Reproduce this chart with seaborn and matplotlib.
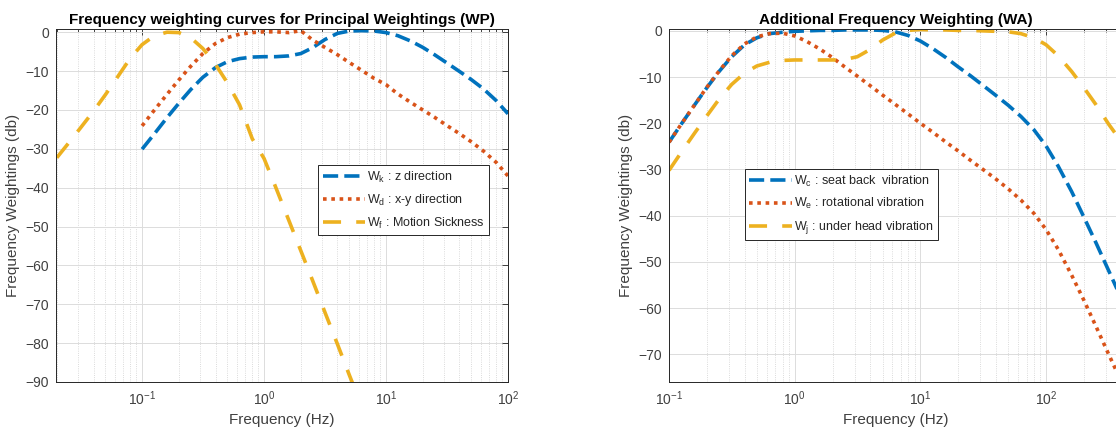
import matplotlib
matplotlib.use("Agg")
import matplotlib.pyplot as plt
from matplotlib.ticker import LogLocator, NullFormatter
import pandas as pd
import seaborn as sns

# third-octave frequencies (Hz)
FREQ_WP = [0.1, 0.125, 0.16, 0.2, 0.25, 0.315, 0.4, 0.5, 0.63, 0.8, 1, 1.25, 1.6, 2,
           2.5, 3.15, 4, 5, 6.3, 8, 10, 12.5, 16, 20, 25, 31.5, 40, 50, 63, 80, 100]
FREQ_WF = [0.02, 0.025, 0.0315, 0.04, 0.05, 0.063, 0.08, 0.1, 0.125, 0.16, 0.2, 0.25,
           0.315, 0.4, 0.5, 0.63, 0.8, 1, 1.25, 1.6, 2, 2.5, 3.15, 4, 5, 6.3]
FREQ_WA = [0.1, 0.125, 0.16, 0.2, 0.25, 0.315, 0.4, 0.5, 0.63, 0.8, 1, 1.25, 1.6, 2,
           2.5, 3.15, 4, 5, 6.3, 8, 10, 12.5, 16, 20, 25, 31.5, 40, 50, 63, 80, 100,
           125, 160, 200, 250, 315, 400]

# principal weightings (dB)
WK_DB = [-30.1, -26.3, -22.0, -18.3, -14.8, -11.6, -9.1, -7.6, -6.8, -6.4, -6.3, -6.3,
         -6.1, -5.5, -4.0, -1.9, -0.3, 0.3, 0.4, 0.3, -0.1, -0.9, -2.3, -3.9, -5.8,
         -7.9, -10.1, -12.2, -14.6, -17.6, -21.0]
WD_DB = [-24.1, -20.2, -16.0, -12.3, -8.8, -5.5, -2.9, -1.4, -0.5, -0.1, 0.1, 0.1, -0.1,
         0.4, -2.0, -3.9, -5.8, -7.8, -9.8, -11.9, -13.5, -15.9, -18.1, -20.0, -21.9,
         -24.0, -26.1, -28.2, -30.6, -33.5, -37.0]
WF_DB = [-32.3, -28.5, -24.5, -20.3, -16.1, -11.5, -6.7, -3.2, -1.0, 0.0, -0.1, -1.4,
         -4.2, -8.3, -13.0, -18.7, -27.4, -32.5, -40.0, -48.5, -56.2, -63.9, -72.0,
         -80.3, -88.2, -96.2]

# additional weightings (dB)
WC_DB = [-24.1, -20.2, -16.0, -12.3, -8.8, -5.6, -3.0, -1.5, -0.6, -0.3, -0.1, 0.0, 0.1,
         0.1, 0.2, 0.2, 0.2, 0.1, -0.2, -1.0, -2.2, -3.8, -5.8, -7.8, -9.7, -11.8, -14.0,
         -16.1, -18.5, -21.4, -24.9, -29.3, -34.8, -40.3, -45.9, -51.9, -58.1]
WE_DB = [-24.1, -20.2, -16.0, -12.2, -8.7, -5.4, -2.8, -1.3, -0.6, -0.5, -1.1, -2.3,
         -4.0, -5.8, -7.8, -9.8, -11.9, -13.9, -15.9, -18.0, -20.0, -21.9, -24.1, -26.0,
         -28.0, -30.0, -32.1, -34.2, -36.6, -39.5, -43.0, -47.3, -52.9, -58.3, -64.0,
         -70.0, -76.1]
WJ_DB = [-30.2, -26.3, -22.1, -18.4, -14.8, -11.6, -9.1, -7.6, -6.8, -6.4, -6.3, -6.3,
         -6.3, -6.3, -6.2, -5.6, -4.0, -2.0, -0.5, 0.1, 0.3, 0.2, 0.2, 0.1, 0.1, 0.0,
         -0.1, -0.2, -0.6, -1.5, -3.0, -5.4, -8.8, -12.3, -16.0, -20.2, -24.1]

LABELS_WP = ["W$_\\mathregular{k}$ : z direction",
             "W$_\\mathregular{d}$ : x-y direction",
             "W$_\\mathregular{f}$ : Motion Sickness"]
LABELS_WA = ["W$_\\mathregular{c}$ : seat back  vibration",
             "W$_\\mathregular{e}$ : rotational vibration",
             "W$_\\mathregular{j}$ : under head vibration"]

BLUE, RED, YELLOW = "#0072BD", "#D95319", "#EDB120"
LW = 2.6
STYLES = [
    dict(color=BLUE, linestyle=(0, (4.2, 1.7))),
    dict(color=RED, linestyle=(0, (1, 1.3))),
    dict(color=YELLOW, linestyle=(0, (5, 4.2))),
]

sns.set_theme(style="white")
plt.rcParams["font.family"] = ["Liberation Sans", "DejaVu Sans"]
plt.rcParams["mathtext.fontset"] = "custom"
plt.rcParams["mathtext.rm"] = "Liberation Sans"
TXT = "#404040"


def style_axes(ax, xlim, ylim, yticks):
    ax.set_xscale("log")
    ax.set_xlim(*xlim)
    ax.set_ylim(*ylim)
    ax.set_yticks(yticks)
    ax.xaxis.set_major_locator(LogLocator(base=10))
    ax.xaxis.set_minor_locator(LogLocator(base=10, subs=range(2, 10), numticks=20))
    ax.xaxis.set_minor_formatter(NullFormatter())
    ax.set_axisbelow(True)
    ax.grid(which="major", color="#dcdcdc", linewidth=0.7, linestyle="-")
    ax.grid(which="minor", axis="x", color="#cfcfcf", linewidth=0.6, linestyle=":")
    for sp in ax.spines.values():
        sp.set_visible(True)
        sp.set_color("#262626")
        sp.set_linewidth(0.7)
    ax.tick_params(which="both", direction="in", top=True, right=True,
                   color="#262626", width=0.6, labelsize=10, labelcolor=TXT, pad=5)
    ax.tick_params(which="major", length=4)
    ax.tick_params(which="minor", length=2.5)
    ax.set_xlabel("Frequency (Hz)", fontsize=11, color=TXT, labelpad=4)
    ax.set_ylabel("Frequency Weightings (db)", fontsize=11, color=TXT, labelpad=4)


def draw_panel(ax, series, labels):
    for (freq, vals), lab, st in zip(series, labels, STYLES):
        df = pd.DataFrame({"freq": freq, "db": vals})
        sns.lineplot(data=df, x="freq", y="db", ax=ax, linewidth=LW,
                     dash_capstyle="butt", errorbar=None, label=lab, **st)


fig = plt.figure(figsize=(11.16, 4.36), dpi=100)
ax1 = fig.add_axes([0.0502, 0.1239, 0.4050, 0.8085])
ax2 = fig.add_axes([0.5995, 0.1239, 0.4056, 0.8085])

ax1.set_xscale("log")
ax2.set_xscale("log")

draw_panel(ax1, [(FREQ_WP, WK_DB), (FREQ_WP, WD_DB), (FREQ_WF, WF_DB)], LABELS_WP)
draw_panel(ax2, [(FREQ_WA, WC_DB), (FREQ_WA, WE_DB), (FREQ_WA, WJ_DB)], LABELS_WA)

style_axes(ax1, (0.0197, 100), (-90, 0.7), range(0, -91, -10))
style_axes(ax2, (0.1, 400), (-76, 0.3), range(0, -71, -10))

ax1.set_title("Frequency weighting curves for Principal Weightings (WP)",
              fontsize=11, fontweight="bold", color="black", pad=4)
ax2.set_title("Additional Frequency Weighting (WA)",
              fontsize=11, fontweight="bold", color="black", pad=4)

for ax, anchor in [(ax1, (0.58, 0.615)), (ax2, (0.168, 0.603))]:
    leg = ax.legend(loc="upper left", bbox_to_anchor=anchor, fontsize=9,
                    frameon=True, fancybox=False, framealpha=1, edgecolor="#262626",
                    handlelength=3.4, handletextpad=0.15, labelspacing=0.6,
                    borderpad=0.35, borderaxespad=0)
    leg.get_frame().set_linewidth(0.7)
    for t in leg.get_texts():
        t.set_color("#262626")

fig.savefig("out.png", dpi=100, facecolor="white")
